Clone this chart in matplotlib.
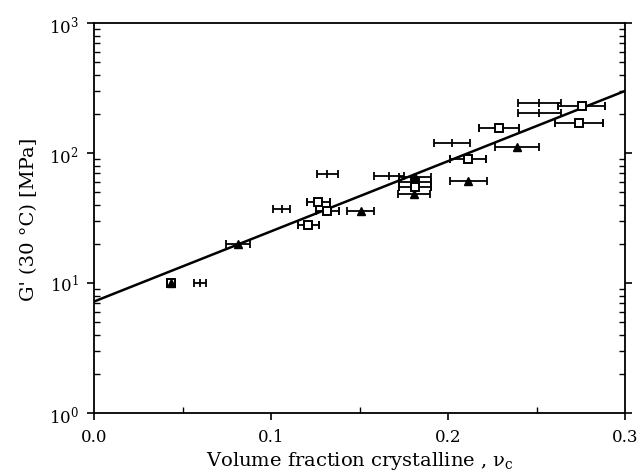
import numpy as np
import matplotlib
matplotlib.use("Agg")
import matplotlib.pyplot as plt
from matplotlib.ticker import MultipleLocator, LogLocator, NullFormatter, FixedLocator

plt.rcParams["font.family"] = ["DejaVu Serif"]
plt.rcParams["mathtext.fontset"] = "dejavuserif"

# open squares
sq_x = [0.1211, 0.1267, 0.1318, 0.1814, 0.1814, 0.2115, 0.2290, 0.2742, 0.2755, 0.0435]
sq_g = [28, 42, 36, 60, 55, 90, 155, 171, 231, 10]
sq_err = [0.006, 0.0064, 0.0066, 0.009, 0.009, 0.0102, 0.0113, 0.0136, 0.0132, 0.002]

# filled triangles
tri_x = [0.0435, 0.0815, 0.1507, 0.1808, 0.1814, 0.2115, 0.2388]
tri_g = [10, 20, 36, 48, 65, 61, 111]
tri_err = [0.002, 0.0067, 0.0077, 0.009, 0.009, 0.0104, 0.0124]

# samples shown with error bars only
bar_x = [0.0599, 0.1060, 0.1318, 0.1669, 0.2021, 0.2516, 0.2516]
bar_g = [10, 37, 69, 67, 119, 243, 202]
bar_err = [0.0034, 0.005, 0.006, 0.0085, 0.0102, 0.012, 0.012]

# exponential fit G' = g0 * 10**(k * vc)
fit_g0 = 7.2
fit_k = 5.4

fig = plt.figure(figsize=(6.43, 4.77), dpi=100)
ax = fig.add_axes([94 / 643, 63 / 477, 531 / 643, 390 / 477])

vc = np.linspace(0.0, 0.3, 200)
ax.plot(vc, fit_g0 * 10 ** (fit_k * vc), color="black", lw=1.8)

eb = dict(color="black", ecolor="black", elinewidth=1.3, capsize=3, capthick=1.3, ls="none")
ax.errorbar(bar_x, bar_g, xerr=bar_err, marker="|", ms=6, mew=1.3, **eb)
ax.errorbar(sq_x, sq_g, xerr=sq_err, marker="s", ms=5.5, mfc="white", mew=1.4, **eb)
ax.errorbar(tri_x, tri_g, xerr=tri_err, marker="^", ms=6, mfc="black", **eb)

ax.set_yscale("log")
ax.set_xlim(0.0, 0.3)
ax.set_ylim(1, 1000)

ax.xaxis.set_major_locator(FixedLocator([0.0, 0.1, 0.2, 0.3]))
ax.set_xticklabels(["0.0", "0.1", "0.2", "0.3"])
ax.xaxis.set_minor_locator(MultipleLocator(0.05))
ax.yaxis.set_major_locator(LogLocator(base=10, numticks=10))
ax.yaxis.set_minor_locator(LogLocator(base=10, subs=np.arange(2, 10), numticks=10))
ax.yaxis.set_minor_formatter(NullFormatter())

ax.tick_params(which="major", direction="out", length=5, width=1.2, labelsize=12, pad=6)
ax.tick_params(which="minor", direction="in", length=4, width=1.0)
ax.tick_params(axis="y", which="both", right=True)

for s in ax.spines.values():
    s.set_linewidth(1.3)

ax.set_xlabel("Volume fraction crystalline , ν$_\\mathrm{c}$", fontsize=14, labelpad=3)
ax.set_ylabel("G' (30 °C) [MPa]", fontsize=14, labelpad=8)

fig.savefig("out.png", dpi=100)
